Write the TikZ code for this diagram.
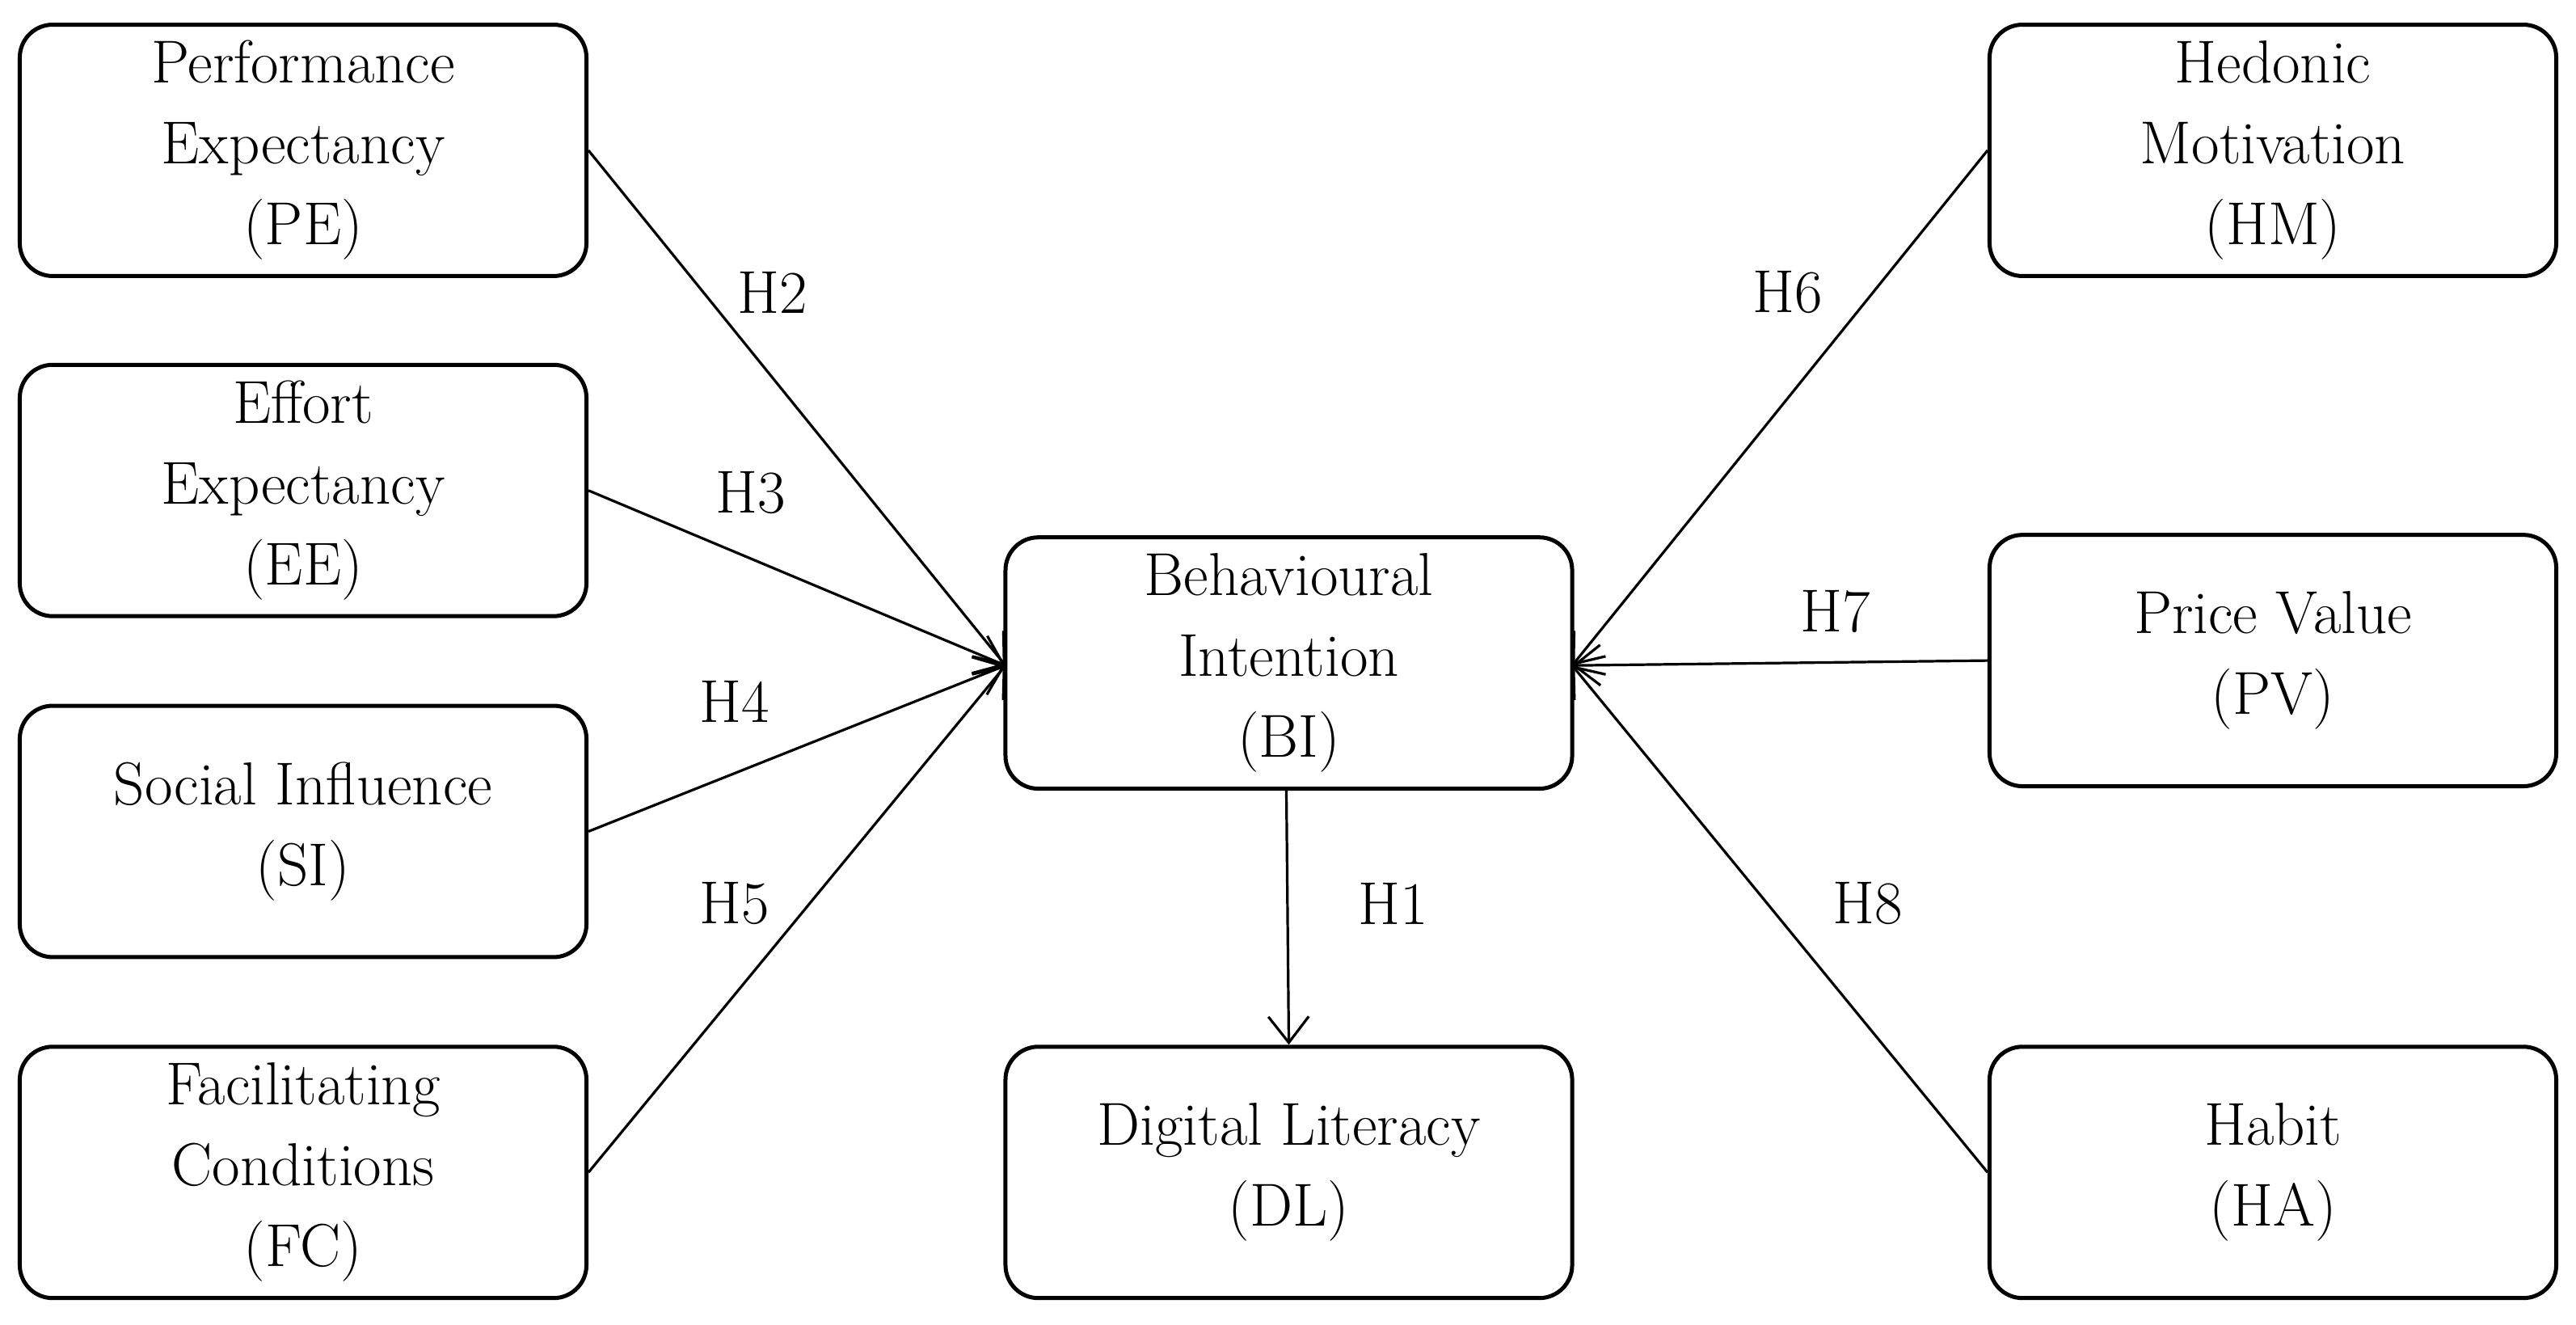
\documentclass[tikz,border=0pt]{standalone}
\usetikzlibrary{arrows.meta}
\begin{document}
\begin{tikzpicture}[x=0.02cm,y=-0.02cm,
 box/.style={draw,line width=1.4pt,rounded corners=0.4cm,minimum width=6.9cm,minimum height=3.06cm,align=center,font=\fontsize{21}{28}\selectfont,inner sep=0pt},
 arr/.style={-{Straight Barb[length=9pt,width=14pt]},line width=0.9pt},
 lab/.style={font=\fontsize{21}{26}\selectfont}]
\useasboundingbox (0,0) rectangle (1568,806);
\node[box] (pe) at (184.5,91.5) {Performance\\Expectancy\\(PE)};
\node[box] (ee) at (184.5,298.5) {Effort\\Expectancy\\(EE)};
\node[box] (si) at (184.5,506) {Social Influence\\(SI)};
\node[box] (fc) at (184.5,713.5) {Facilitating\\Conditions\\(FC)};
\node[box] (bi) at (784.5,403.5) {Behavioural\\Intention\\(BI)};
\node[box] (dl) at (784.5,713.5) {Digital Literacy\\(DL)};
\node[box] (hm) at (1383.5,91.5) {Hedonic\\Motivation\\(HM)};
\node[box] (pv) at (1383.5,402) {Price Value\\(PV)};
\node[box] (ha) at (1383.5,713.5) {Habit\\(HA)};
\coordinate (bw) at (612,405);
\coordinate (be) at (957,405);
\draw[arr] (pe.east) -- (bw);
\draw[arr] (ee.east) -- (bw);
\draw[arr] (si.east) -- (bw);
\draw[arr] (fc.east) -- (bw);
\draw[arr] (hm.west) -- (be);
\draw[arr] (pv.west) -- (be);
\draw[arr] (ha.west) -- (be);
\draw[arr] (783,480) -- (dl.north);
\node[lab] at (470,178) {H2};
\node[lab] at (457,300) {H3};
\node[lab] at (447,427) {H4};
\node[lab] at (447,550) {H5};
\node[lab] at (1088,178) {H6};
\node[lab] at (1117,372) {H7};
\node[lab] at (1137,550) {H8};
\node[lab] at (848,550) {H1};
\end{tikzpicture}
\end{document}
